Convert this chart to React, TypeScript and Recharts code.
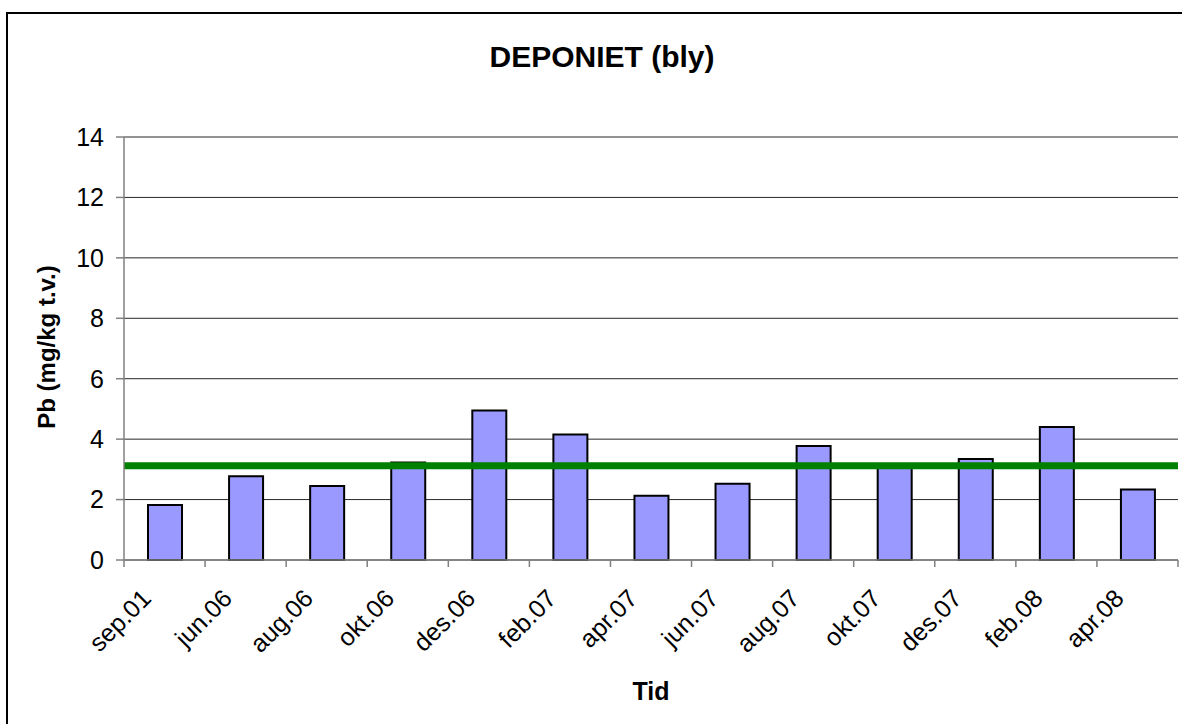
import React from 'react'
import { ComposedChart, Bar, XAxis, YAxis, CartesianGrid, ReferenceLine } from 'recharts'

// sampling dates (x-axis categories)
const categories = [
  'sep.01', 'jun.06', 'aug.06', 'okt.06', 'des.06', 'feb.07', 'apr.07',
  'jun.07', 'aug.07', 'okt.07', 'des.07', 'feb.08', 'apr.08'
]

// lead content, mg/kg dry weight
const leadValues = [1.82, 2.77, 2.45, 3.23, 4.95, 4.15, 2.13, 2.52, 3.77, 3.1, 3.34, 4.4, 2.33]

// horizontal green level line
const levelValue = 3.12

const yTicks = [0, 2, 4, 6, 8, 10, 12, 14]

const FONT = '"Liberation Sans", Arial, sans-serif'
const W = 1182
const H = 724
const M = { top: 137, right: 4, bottom: 134, left: 64 }

const data = categories.map((name, i) => ({ name, pb: leadValues[i] }))

// Excel-style category ticks: marks on the category boundaries, rotated labels at the centre
// (y from recharts is axis y + tickSize(6) + tickMargin(2))
function DateTick(props: any) {
  const { x, y, payload } = props
  const half = payload?.offset ?? (W - 124 - M.right) / categories.length / 2
  const last = payload?.index === categories.length - 1
  const ax = y - 8
  const tx = x - 12
  const ty = ax + 40
  return (
    <g>
      <line x1={x - half} x2={x - half} y1={ax} y2={ax + 7} stroke="#808080" strokeWidth={1.5} />
      {last && <line x1={x + half} x2={x + half} y1={ax} y2={ax + 7} stroke="#808080" strokeWidth={1.5} />}
      <text
        x={tx}
        y={ty}
        textAnchor="end"
        transform={`rotate(-45, ${tx}, ${ty})`}
        fontFamily={FONT}
        fontSize={25}
        fill="#000"
      >
        {payload.value}
      </text>
    </g>
  )
}

export default function App() {
  return (
    <div style={{ position: 'absolute', left: 0, top: 0, width: W, height: H, background: '#fff', overflow: 'hidden' }}>
      <div
        style={{
          position: 'absolute', left: 6, top: 12, width: W + 40, height: H,
          borderLeft: '2px solid #000', borderTop: '2px solid #000'
        }}
      />
      <div style={{ position: 'absolute', left: 0, top: 0 }}>
        <ComposedChart width={W} height={H} data={data} margin={M}>
          <CartesianGrid vertical={false} stroke="#000" strokeOpacity={0.85} />
          <XAxis
            dataKey="name"
            height={30}
            interval={0}
            tickLine={false}
            axisLine={{ stroke: '#808080', strokeWidth: 1.5 }}
            tick={<DateTick />}
          />
          <YAxis
            width={60}
            domain={[0, 14]}
            ticks={yTicks}
            interval={0}
            tickSize={8}
            tickMargin={12}
            axisLine={{ stroke: '#808080', strokeWidth: 1.5 }}
            tickLine={{ stroke: '#808080', strokeWidth: 1.5 }}
            tick={{ fontFamily: FONT, fontSize: 25, fill: '#000' }}
          />
          <Bar dataKey="pb" fill="#9999ff" stroke="#000" strokeWidth={2} barSize={34} isAnimationActive={false} />
          <ReferenceLine y={levelValue} stroke="#008000" strokeWidth={7} />
        </ComposedChart>
      </div>
      <svg width={W} height={H} style={{ position: 'absolute', left: 0, top: 0, pointerEvents: 'none' }}>
        <text x={602} y={67} textAnchor="middle" fontFamily={FONT} fontSize={30} fontWeight="bold" fill="#000">
          DEPONIET (bly)
        </text>
        <text x={651} y={700} textAnchor="middle" fontFamily={FONT} fontSize={25} fontWeight="bold" fill="#000">
          Tid
        </text>
        <text
          x={55}
          y={347}
          textAnchor="middle"
          transform="rotate(-90, 55, 347)"
          fontFamily={FONT}
          fontSize={24}
          fontWeight="bold"
          fill="#000"
        >
          Pb (mg/kg t.v.)
        </text>
      </svg>
    </div>
  )
}
